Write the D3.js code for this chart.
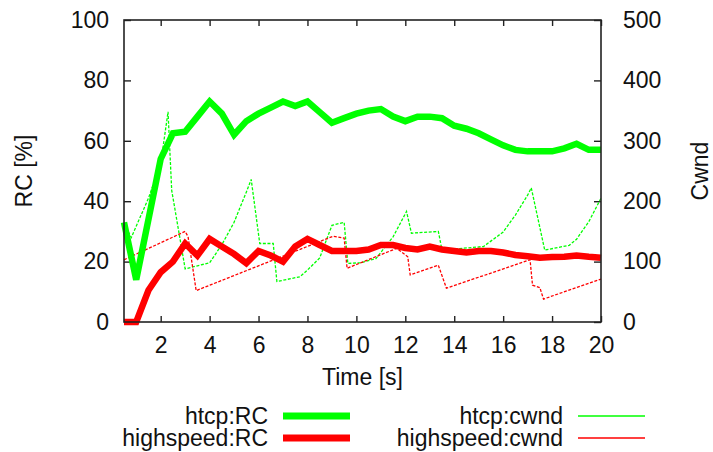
<!DOCTYPE html>
<html>
<head>
<meta charset="utf-8">
<script src="https://cdn.jsdelivr.net/npm/d3@7"></script>
<style>
  html, body { margin: 0; padding: 0; background: #fff; }
  svg { display: block; }
  text { font-family: "Liberation Sans", Arial, sans-serif; fill: #111; }
</style>
</head>
<body>
<svg id="chart" width="713" height="452"></svg>
<script>
// Sample times (s) for the RC series
const rcTime = [0.5, 1, 1.5, 2, 2.5, 3, 3.5, 4, 4.5, 5, 5.5, 6, 6.5, 7, 7.5, 8, 8.5, 9, 9.5, 10,
                10.5, 11, 11.5, 12, 12.5, 13, 13.5, 14, 14.5, 15, 15.5, 16, 16.5, 17, 17.5, 18, 18.5, 19, 19.5, 20];
// RC [%] per protocol
const htcpRC = [33, 14, 34, 54, 62.5, 63, 68, 73, 69, 62, 66.5, 69, 71, 73, 71.5, 73, 69.5, 66, 67.5, 69,
                70, 70.5, 68, 66.5, 68, 68, 67.5, 65, 64, 62.5, 60.5, 58.5, 57, 56.5, 56.5, 56.5, 57.5, 59, 57, 57];
const highspeedRC = [0, 0, 10.5, 16.5, 20, 26, 22, 27.5, 25, 22.5, 19.5, 23.5, 22, 20, 25, 27.5, 25.5, 23.5, 23.5, 23.5,
                     24, 25.5, 25.5, 24.5, 24, 25, 24, 23.5, 23, 23.5, 23.5, 23, 22.2, 21.8, 21.3, 21.5, 21.6, 22, 21.6, 21.3];

// Congestion window traces (time in s, cwnd in packets)
const htcpCwndTime = [0.5, 0.8, 1.5, 2.0, 2.3, 2.45, 3.0, 4.0, 4.5, 5.0, 5.5, 5.7, 6.05, 6.6, 6.75, 7.7, 8.0, 8.5, 9.0, 9.5,
                      9.65, 10.15, 10.8, 11.5, 12.05, 12.25, 13.35, 13.5, 15.2, 16.0, 16.5, 17.0, 17.15, 17.7, 18.7, 19.0, 19.5, 20.0];
const htcpCwnd = [163, 140, 205, 262, 348, 218, 88, 98, 128, 165, 215, 236, 130, 130, 67, 75, 86, 106, 160, 165,
                  97, 98, 105, 141, 183, 147, 150, 119, 125, 149, 177, 210, 222, 119, 127, 137, 166, 205];
const highspeedCwndTime = [0.5, 3.0, 3.12, 3.45, 9.05, 9.5, 9.62, 11.65, 12.1, 12.2, 13.35, 13.68, 17.1, 17.2, 17.5, 17.65, 20.0];
const highspeedCwnd = [103, 150, 141, 52, 142, 139, 89, 122, 108, 78, 94, 56, 103, 61, 57, 38, 71];

// Axis ticks
const xTicks = [2, 4, 6, 8, 10, 12, 14, 16, 18, 20];
const yTicks = [0, 20, 40, 60, 80, 100];
const y2Ticks = [0, 100, 200, 300, 400, 500];

const legendItems = [
  { label: "htcp:RC", color: "#00ff00", thick: true, col: 0, row: 0 },
  { label: "highspeed:RC", color: "#ff0000", thick: true, col: 0, row: 1 },
  { label: "htcp:cwnd", color: "#00ff00", thick: false, col: 1, row: 0 },
  { label: "highspeed:cwnd", color: "#ff0000", thick: false, col: 1, row: 1 }
];

const svg = d3.select("#chart");
const plotLeft = 124, plotRight = 601, plotTop = 20, plotBottom = 322;
const fontSize = 23;

const x = d3.scaleLinear().domain([0.5, 20]).range([plotLeft, plotRight]);
const y = d3.scaleLinear().domain([0, 100]).range([plotBottom, plotTop]);
const y2 = d3.scaleLinear().domain([0, 500]).range([plotBottom, plotTop]);

// Axes with inward ticks
function styleAxis(g) {
  g.select(".domain").remove();
  g.selectAll(".tick line").attr("stroke", "#222").attr("stroke-width", 1.4);
  g.selectAll(".tick text").style("font-size", fontSize + "px")
    .style("font-family", "'Liberation Sans', Arial, sans-serif").attr("fill", "#111");
}

svg.append("g").attr("transform", `translate(0,${plotBottom})`)
  .call(d3.axisBottom(x).tickValues(xTicks).tickSize(-6).tickPadding(15).tickFormat(d3.format("d")))
  .call(styleAxis);
svg.append("g").attr("transform", `translate(0,${plotTop})`)
  .call(d3.axisTop(x).tickValues(xTicks).tickSize(-6).tickFormat(""))
  .call(styleAxis);
svg.append("g").attr("transform", `translate(${plotLeft},0)`)
  .call(d3.axisLeft(y).tickValues(yTicks).tickSize(-7).tickPadding(15))
  .call(styleAxis);
svg.append("g").attr("transform", `translate(${plotRight},0)`)
  .call(d3.axisRight(y2).tickValues(y2Ticks).tickSize(-7).tickPadding(22))
  .call(styleAxis);

// Series
const rcLine = d3.line().x(d => x(d[0])).y(d => y(d[1]));
const cwndLine = d3.line().x(d => x(d[0])).y(d => y2(d[1]));

const plot = svg.append("g");
plot.append("path")
  .datum(htcpCwndTime.map((t, i) => [t, htcpCwnd[i]]))
  .attr("d", cwndLine).attr("fill", "none").attr("stroke", "#00ff00")
  .attr("stroke-width", 1.3).attr("stroke-dasharray", "3,1.6");
plot.append("path")
  .datum(highspeedCwndTime.map((t, i) => [t, highspeedCwnd[i]]))
  .attr("d", cwndLine).attr("fill", "none").attr("stroke", "#ff0000")
  .attr("stroke-width", 1.3).attr("stroke-dasharray", "3,1.6");
plot.append("path")
  .datum(rcTime.map((t, i) => [t, htcpRC[i]]))
  .attr("d", rcLine).attr("fill", "none").attr("stroke", "#00ff00")
  .attr("stroke-width", 6.5).attr("stroke-linejoin", "miter");
plot.append("path")
  .datum(rcTime.map((t, i) => [t, highspeedRC[i]]))
  .attr("d", rcLine).attr("fill", "none").attr("stroke", "#ff0000")
  .attr("stroke-width", 6.5).attr("stroke-linejoin", "miter");

// Frame
svg.append("rect").attr("x", plotLeft).attr("y", plotTop)
  .attr("width", plotRight - plotLeft).attr("height", plotBottom - plotTop)
  .attr("fill", "none").attr("stroke", "#222").attr("stroke-width", 1.6);

// Axis titles
svg.append("text").attr("x", (plotLeft + plotRight) / 2).attr("y", 385)
  .attr("text-anchor", "middle").style("font-size", fontSize + "px").text("Time [s]");
svg.append("text").attr("transform", `translate(32,${(plotTop + plotBottom) / 2}) rotate(-90)`)
  .attr("text-anchor", "middle").style("font-size", fontSize + "px").text("RC [%]");
svg.append("text").attr("transform", `translate(708,${(plotTop + plotBottom) / 2}) rotate(-90)`)
  .attr("text-anchor", "middle").style("font-size", fontSize + "px").text("Cwnd");

// Legend
const colTextRight = [268, 563];
const rowY = [416, 438];
const legend = svg.append("g");
legendItems.forEach(item => {
  const tx = colTextRight[item.col], ty = rowY[item.row];
  legend.append("text").attr("x", tx).attr("y", ty).attr("dy", "0.34em")
    .attr("text-anchor", "end").style("font-size", fontSize + "px").text(item.label);
  legend.append("line").attr("x1", tx + 15).attr("x2", tx + 82)
    .attr("y1", ty).attr("y2", ty).attr("stroke", item.color)
    .attr("stroke-width", item.thick ? 7 : 1.5);
});
</script>
</body>
</html>
